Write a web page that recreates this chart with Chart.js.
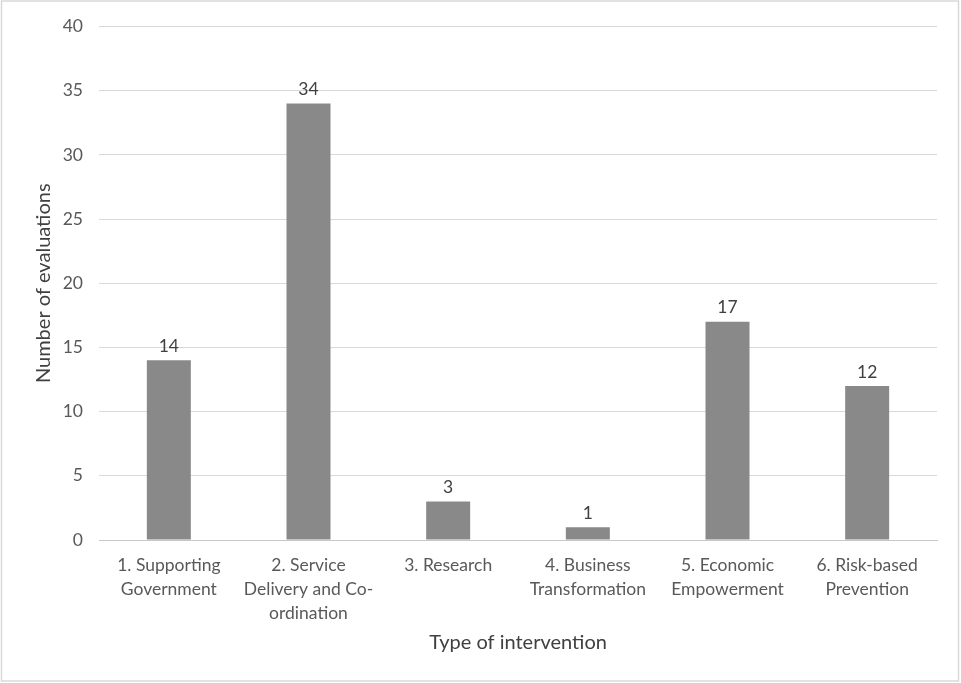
<!DOCTYPE html>
<html>
<head>
<meta charset="utf-8">
<script src="https://cdn.jsdelivr.net/npm/chart.js@4/dist/chart.umd.min.js"></script>
<style>
  html, body { margin: 0; padding: 0; background: #ffffff; }
  #wrap { width: 961px; height: 683px; }
</style>
</head>
<body>
<div id="wrap"><canvas id="c" width="961" height="683"></canvas></div>
<script>
// Evaluations per intervention type
const categories = [
  ["1. Supporting", "Government"],
  ["2. Service", "Delivery and Co-", "ordination"],
  ["3. Research"],
  ["4. Business", "Transformation"],
  ["5. Economic", "Empowerment"],
  ["6. Risk-based", "Prevention"]
];
const evaluations = [14, 34, 3, 1, 17, 12];
const yTicks = [0, 5, 10, 15, 20, 25, 30, 35, 40];

const FONT = "Lato, 'Open Sans', sans-serif";
const TEXT = "#595959";

// value labels above each bar
const valueLabels = {
  id: 'valueLabels',
  afterDatasetsDraw(chart) {
    const ctx = chart.ctx;
    const meta = chart.getDatasetMeta(0);
    ctx.save();
    ctx.font = "17.5px " + FONT;
    ctx.fillStyle = "#404040";
    ctx.textAlign = "center";
    ctx.textBaseline = "middle";
    meta.data.forEach((bar, i) => {
      ctx.fillText(String(evaluations[i]), bar.x, bar.y - 14);
    });
    ctx.restore();
  }
};

// light frame round the whole chart
const frame = {
  id: 'frame',
  afterDraw(chart) {
    const ctx = chart.ctx;
    ctx.save();
    ctx.strokeStyle = "#d9d9d9";
    ctx.lineWidth = 1.5;
    ctx.strokeRect(1.5, 1, chart.width - 4, chart.height - 3);
    ctx.restore();
  }
};

new Chart(document.getElementById('c'), {
  type: 'bar',
  data: {
    labels: categories,
    datasets: [{
      data: evaluations,
      backgroundColor: "#898989",
      borderWidth: 0,
      categoryPercentage: 1,
      barPercentage: 0.315
    }]
  },
  options: {
    responsive: false,
    animation: false,
    devicePixelRatio: 1,
    layout: { autoPadding: false, padding: { left: 0, right: 24, top: 25, bottom: 0 } },
    plugins: { legend: { display: false }, tooltip: { enabled: false } },
    scales: {
      y: {
        min: 0, max: 40,
        afterBuildTicks(scale) { scale.ticks = yTicks.map(v => ({ value: v })); },
        afterFit(scale) { scale.width = 99; },
        grid: { color: "#d9d9d9", lineWidth: 1, drawTicks: false },
        border: { display: false },
        ticks: { color: TEXT, font: { family: FONT, size: 17.5 }, padding: 16 },
        title: {
          display: true, text: "Number of evaluations", color: "#404040",
          font: { family: FONT, size: 20 }, padding: { top: 32, bottom: 0 }
        }
      },
      x: {
        afterFit(scale) { scale.height = 143; },
        grid: { display: false, drawTicks: false },
        border: { display: true, color: "#c8c8c8", width: 1 },
        ticks: { color: TEXT, font: { family: FONT, size: 17.5, lineHeight: 1.37 }, padding: 13, maxRotation: 0, autoSkip: false },
        title: {
          display: true, text: "Type of intervention", color: "#404040",
          font: { family: FONT, size: 20 }, padding: { top: 0, bottom: 28 }
        }
      }
    }
  },
  plugins: [valueLabels, frame]
});
</script>
</body>
</html>
